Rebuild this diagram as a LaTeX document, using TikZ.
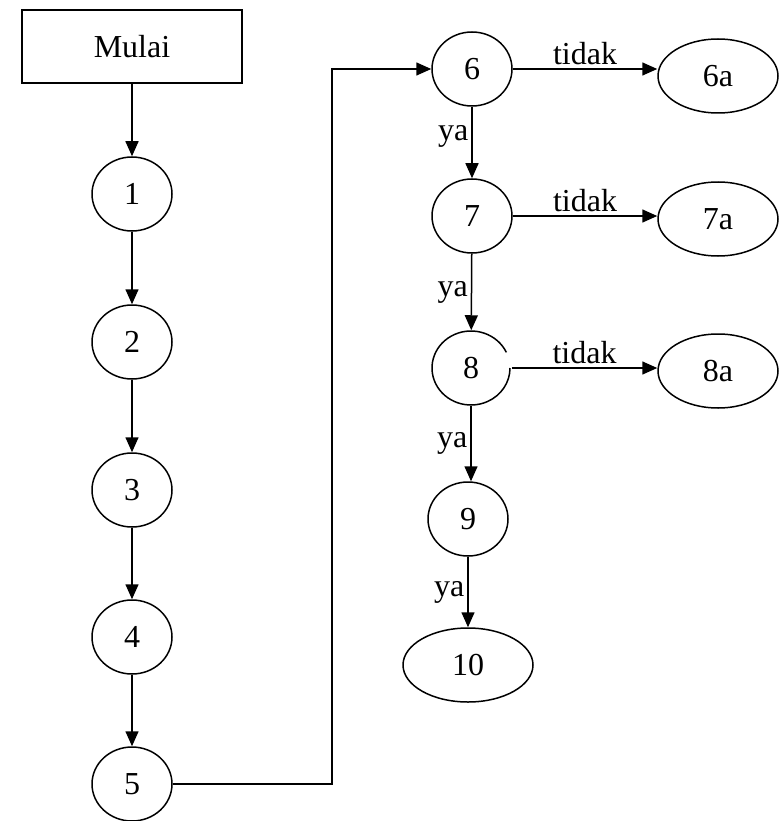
\documentclass[tikz,border=0pt]{standalone}
\usepackage{fontspec}
\setmainfont{Liberation Serif}
\usetikzlibrary{shapes.geometric,arrows.meta}
\begin{document}
\begin{tikzpicture}[x=1pt,y=1pt,
  every node/.style={font=\fontsize{32}{38}\selectfont},
  circ/.style={draw,ellipse,line width=1.5pt,minimum width=80pt,minimum height=74pt,inner sep=0pt},
  oval/.style={draw,ellipse,line width=1.5pt,minimum width=120pt,minimum height=74pt,inner sep=0pt},
  startbox/.style={draw,rectangle,line width=1.8pt,minimum width=220pt,minimum height=73pt,inner sep=0pt},
  link/.style={line width=1.5pt,-{Triangle[length=15pt,width=13pt]}},
  lab/.style={inner sep=3pt}]
\useasboundingbox (0,0) rectangle (780,-821);
\node[startbox] (mulai) at (132,-46.5) {Mulai};
\node[circ] (n1) at (132,-194) {1};
\node[circ] (n2) at (132,-342) {2};
\node[circ] (n3) at (132,-490) {3};
\node[circ] (n4) at (132,-637) {4};
\node[circ] (n5) at (132,-784) {5};
\node[circ] (n6) at (472,-69) {6};
\node[circ] (n7) at (472,-216) {7};
\node[circ,draw=none] (n8) at (471,-368) {8};
\draw[line width=1.5pt] (n8.center) ++({39*cos(25)},{37*sin(25)}) arc[start angle=25,end angle=360,x radius=39,y radius=37];
\node[circ] (n9) at (468,-519) {9};
\node[oval,minimum width=130pt] (n10) at (468,-665) {10};
\node[oval] (n6a) at (718,-76) {6a};
\node[oval] (n7a) at (718,-219) {7a};
\node[oval] (n8a) at (718,-371) {8a};
\coordinate (bend) at (332,0);
\draw[link] (mulai) -- (n1);
\draw[link] (n1) -- (n2);
\draw[link] (n2) -- (n3);
\draw[link] (n3) -- (n4);
\draw[link] (n4) -- (n5);
\draw[link] (n5.east) -- (n5.east -| bend) |- (n6.west);
\draw[link] (n6.east) -- node[above,lab] {tidak} (n6.east -| n6a.west);
\draw[link] (n7.east) -- node[above,lab] {tidak} (n7.east -| n7a.west);
\draw[link] (n8.east) -- node[above,lab] {tidak} (n8.east -| n8a.west);
\draw[link] (n6) -- node[left,lab,yshift=6pt] {ya} (n7);
\draw[link] (n7) -- node[left,lab] {ya} (n8);
\draw[link] (n8.south) -- node[left,lab] {ya} (n8.south |- n9.north);
\draw[link] (n9) -- node[left,lab] {ya} (n10);
\end{tikzpicture}
\end{document}
